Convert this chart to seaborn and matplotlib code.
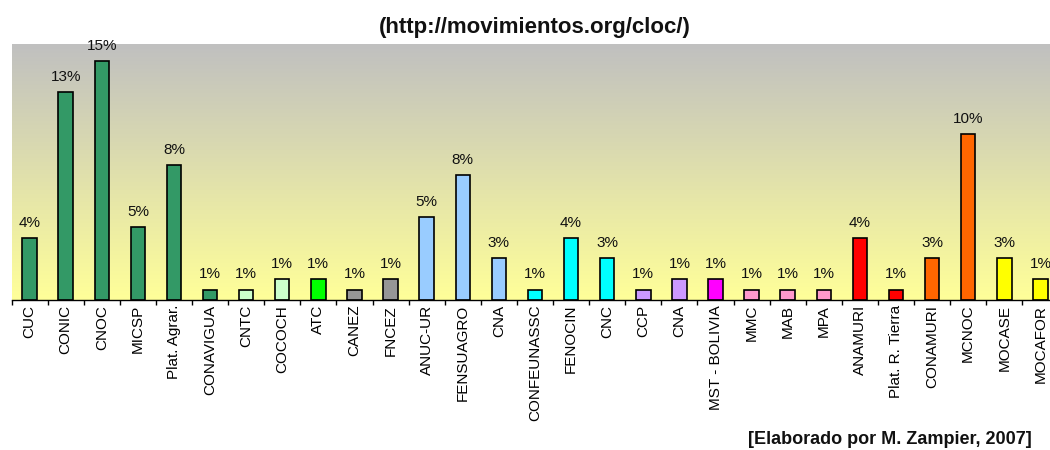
import numpy as np
import pandas as pd
import matplotlib
matplotlib.use("Agg")
import matplotlib.pyplot as plt
import seaborn as sns
from matplotlib.colors import LinearSegmentedColormap
from matplotlib.ticker import FixedLocator

# Organizations (x axis) and how many entries each one has
organizations = ["CUC", "CONIC", "CNOC", "MICSP", "Plat. Agrar.", "CONAVIGUA", "CNTC",
                 "COCOCH", "ATC", "CANEZ", "FNCEZ", "ANUC-UR", "FENSUAGRO", "CNA",
                 "CONFEUNASSC", "FENOCIN", "CNC", "CCP", "CNA", "MST - BOLIVIA", "MMC",
                 "MAB", "MPA", "ANAMURI", "Plat. R. Tierra", "CONAMURI", "MCNOC",
                 "MOCASE", "MOCAFOR"]
members = [6, 20, 23, 7, 13, 1, 1, 2, 2, 1, 2, 8, 12, 4, 1, 6, 4, 1, 2, 2, 1, 1, 1,
           6, 1, 4, 16, 4, 2]
bar_colors = ["#339966", "#339966", "#339966", "#339966", "#339966", "#339966", "#CCFFCC",
              "#CCFFCC", "#00FF00", "#969696", "#969696", "#99CCFF", "#99CCFF", "#99CCFF",
              "#00FFFF", "#00FFFF", "#00FFFF", "#CC99FF", "#CC99FF", "#FF00FF", "#FF99CC",
              "#FF99CC", "#FF99CC", "#FF0000", "#FF0000", "#FF6600", "#FF6600",
              "#FFFF00", "#FFFF00"]

title_text = "(http://movimientos.org/cloc/)"
credit_text = "[Elaborado por M. Zampier, 2007]"

plt.rcParams["font.family"] = ["Liberation Sans", "DejaVu Sans"]

# Share of each organization, in percent
total = sum(members)
share = [100 * m / total for m in members]
slots = [f"{i}:{name}" for i, name in enumerate(organizations)]
df = pd.DataFrame({"slot": slots, "share": share})

fig = plt.figure(figsize=(10.5, 4.5), dpi=100)
ax = fig.add_axes([11.5 / 1050, 150 / 450, 1 - 11.5 / 1050, 256 / 450])

# Gray to pale yellow background
bg = LinearSegmentedColormap.from_list("bg", ["#FFFF99", "#C0C0C0"])
grad = np.linspace(0, 1, 256).reshape(-1, 1)
ax.imshow(grad, cmap=bg, origin="lower", extent=(0, 1, 0, 1),
          transform=ax.transAxes, aspect="auto", zorder=0)

sns.barplot(data=df, x="slot", y="share", hue="slot",
            palette=dict(zip(slots, bar_colors)), legend=False, saturation=1,
            width=0.4, edgecolor="black", linewidth=1.2, ax=ax, zorder=2)

# Percent labels above bars
for i, v in enumerate(share):
    ax.annotate(f"{v:.0f}%", (i, v), xytext=(0, 8), textcoords="offset points",
                ha="center", va="baseline", fontsize=11, color="#111111")

ax.set_xlim(-0.5, 28.265)
ax.set_ylim(0, 16)
ax.set_xticks(range(len(organizations)))
ax.set_xticklabels(organizations, rotation=90, fontsize=11)
ax.xaxis.set_minor_locator(FixedLocator(np.arange(-0.5, len(organizations), 1)))
ax.tick_params(axis="x", which="major", length=0, pad=3.5)
ax.tick_params(axis="x", which="minor", length=3.6, width=1, color="black")
ax.set_yticks([])
ax.set_xlabel("")
ax.set_ylabel("")
for side in ["top", "right", "left"]:
    ax.spines[side].set_visible(False)
ax.spines["bottom"].set_color("black")
ax.spines["bottom"].set_linewidth(1)

fig.text(535 / 1050, 1 - 28 / 450, title_text, ha="center", va="center",
         fontsize=16, fontweight="bold", color="#111111")
fig.text(1032 / 1050, 1 - 440 / 450, credit_text, ha="right", va="center",
         fontsize=13, fontweight="bold", color="#111111")

fig.savefig("out.png", dpi=100)
